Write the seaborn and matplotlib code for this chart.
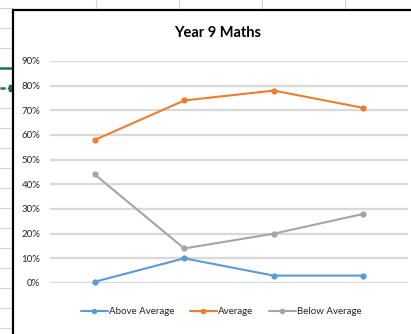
import pandas as pd
import numpy as np
import matplotlib.pyplot as plt
import seaborn as sns
from matplotlib.lines import Line2D
from matplotlib.patches import Rectangle

terms = ["Test 1", "Test 2", "Test 3", "Test 4"]
above_average = [0.5, 10, 3, 3]
average = [58, 74, 78, 71]
below_average = [44, 14, 20, 28]
series_names = ["Above Average", "Average", "Below Average"]
yticks = [0, 10, 20, 30, 40, 50, 60, 70, 80, 90]

df = pd.DataFrame({
    "Term": terms * 3,
    "Value": np.array(above_average + average + below_average) / 100,
    "Series": np.repeat(series_names, len(terms)),
})

sns.set_style("white")
plt.rcParams['font.family'] = ['Lato', 'DejaVu Sans']

W, H = 411, 334
fig = plt.figure(figsize=(W / 100, H / 100), dpi=100)

def fx(px):
    return px / W

def fy(py):
    return 1 - py / H

# spreadsheet cells behind the chart
grid_col = "#d4d4d4"
for x in [96, 179, 262, 345]:
    fig.add_artist(Line2D([fx(x), fx(x)], [1, fy(10)], color=grid_col, lw=0.8, zorder=-3))
for y in range(8, 334, 20):
    fig.add_artist(Line2D([0, fx(13)], [fy(y), fy(y)], color=grid_col, lw=0.8, zorder=-3))
fig.add_artist(Line2D([0, fx(13)], [fy(68), fy(68)], color="#217346", lw=1.8, zorder=-2))
fig.add_artist(Line2D([0, fx(9)], [fy(88), fy(88)], color="#217346", lw=1.8,
                      ls=(0, (2, 1)), zorder=-2))
fig.add_artist(Rectangle((fx(9), fy(91)), fx(4), 6 / H, color="#217346", zorder=-2))

# chart box
fig.add_artist(Rectangle((fx(13), fy(340)), fx(410), 330 / H, facecolor="white",
                         edgecolor="black", lw=1.6, zorder=-1))

ax = fig.add_axes([fx(50), fy(283), fx(408) - fx(50), fy(61) - fy(283)])
palette = {"Above Average": "#5b9bd5", "Average": "#ed7d31", "Below Average": "#a5a5a5"}
sns.lineplot(data=df, x="Term", y="Value", hue="Series", palette=palette,
             marker="o", markersize=4.5, markeredgewidth=0, linewidth=1.5,
             ax=ax, clip_on=False, legend=False)

ax.set_xlim(-0.5, 3.5)
ax.set_ylim(0, 0.9)
ax.set_yticks([t / 100 for t in yticks])
ax.set_yticklabels([f"{t}%" for t in yticks], fontsize=7)
ax.set_xticks([])
ax.set_xlabel("")
ax.set_ylabel("")
ax.tick_params(axis="y", length=0, pad=7)
ax.yaxis.grid(True, color="#d9d9d9", lw=1.6)
ax.set_axisbelow(True)
ax.patch.set_alpha(0)
for s in ax.spines.values():
    s.set_visible(False)

fig.text(fx(218), fy(33), "Year 9 Maths", ha="center", va="center",
         fontsize=10.5, fontweight="bold", color="black")

handles = [Line2D([], [], color=palette[n], marker="o", markersize=4,
                  markeredgewidth=0, lw=1.5) for n in series_names]
fig.legend(handles, series_names, loc="center", bbox_to_anchor=(fx(221), fy(312)),
           ncol=3, frameon=False, fontsize=7, handlelength=2.8, columnspacing=1.6,
           handletextpad=0.1)

fig.savefig("out.png", dpi=100)
